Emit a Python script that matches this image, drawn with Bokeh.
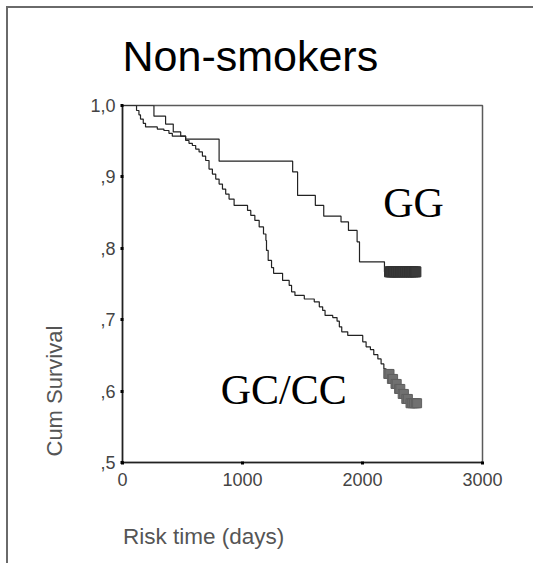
from bokeh.plotting import figure
from bokeh.models import Range1d, FixedTicker, Label, Title, Div
from bokeh.layouts import column
from bokeh.embed import file_html
from bokeh.resources import INLINE
from bokeh.core.properties import value

# ---- data ----
# GG group: step times (days) and cumulative survival after each step
gg_time = [0, 262, 359, 423, 485, 526, 805, 1418, 1459, 1607, 1677, 1821, 1883,
           1955, 1975, 2183, 2445]
gg_surv = [1.0, 0.985, 0.974, 0.963, 0.957, 0.953, 0.922, 0.907, 0.874, 0.860,
           0.845, 0.837, 0.825, 0.809, 0.781, 0.767, 0.767]
gg_cens_time = [2225, 2235, 2245, 2258, 2270, 2285, 2300, 2315, 2330, 2345, 2360,
                2375, 2390, 2405, 2420, 2435, 2445]
gg_cens_surv = [0.767] * 17

# GC/CC group
cc_time = [0, 117, 137, 150, 173, 192, 290, 345, 387, 415, 526, 554, 582, 610,
           638, 666, 693, 721, 749, 777, 805, 833, 860, 888, 930, 1042, 1069,
           1103, 1139, 1175, 1195, 1200, 1214, 1242, 1259, 1334, 1389, 1409,
           1437, 1515, 1598, 1640, 1668, 1688, 1752, 1788, 1807, 1827, 1877,
           2002, 2030, 2066, 2094, 2128, 2155, 2178, 2197, 2232, 2262, 2292,
           2322, 2352, 2385, 2455]
cc_surv = [1.0, 0.993, 0.987, 0.981, 0.975, 0.970, 0.967, 0.965, 0.961, 0.957,
           0.951, 0.947, 0.944, 0.939, 0.935, 0.929, 0.923, 0.911, 0.904, 0.897,
           0.890, 0.883, 0.876, 0.869, 0.860, 0.853, 0.846, 0.839, 0.830, 0.820,
           0.811, 0.797, 0.783, 0.773, 0.765, 0.755, 0.748, 0.739, 0.734, 0.729,
           0.725, 0.718, 0.713, 0.706, 0.703, 0.698, 0.690, 0.683, 0.678, 0.669,
           0.662, 0.658, 0.651, 0.645, 0.638, 0.631, 0.624, 0.617, 0.610, 0.603,
           0.596, 0.589, 0.583, 0.583]
cc_cens_time = [2215, 2225, 2245, 2255, 2275, 2285, 2305, 2315, 2335, 2345, 2365,
                2378, 2400, 2415, 2430, 2445, 2455]
cc_cens_surv = [0.624, 0.624, 0.617, 0.617, 0.610, 0.610, 0.603, 0.603, 0.596,
                0.596, 0.589, 0.589, 0.583, 0.583, 0.583, 0.583, 0.583]

x_ticks = [0, 1000, 2000, 3000]
y_ticks = [0.5, 0.6, 0.7, 0.8, 0.9, 1.0]
y_tick_labels = [",5", ",6", ",7", ",8", ",9", "1,0"]

group_labels = ["GG", "GC/CC"]
group_label_x = [2172, 819]
group_label_y = [0.864, 0.601]

x_title = "Risk time (days)"

# ---- figure ----
p = figure(width=533, height=500, x_range=Range1d(0, 3000), y_range=Range1d(0.5, 1.0),
           output_backend="svg", toolbar_location=None,
           min_border_left=122, min_border_right=51, min_border_top=105,
           min_border_bottom=38)
p.styles = {"box-shadow": "inset 6px 6px 0px 0px #ffffff, inset 8px 8px 0px 0px #6a6a6a"}
p.grid.visible = False
p.background_fill_color = "white"
p.border_fill_color = None
p.outline_line_color = "#5a5a5a"
p.outline_line_width = 1.5

for ax in (p.xaxis[0], p.yaxis[0]):
    ax.axis_line_color = "#222222"
    ax.axis_line_width = 1.5
    ax.major_tick_line_color = "black"
    ax.major_tick_line_width = 3
    ax.major_tick_out = 2
    ax.major_tick_in = 1
    ax.minor_tick_line_color = None
    ax.major_label_text_font = "Liberation Sans"
    ax.major_label_text_font_size = "18px"
    ax.major_label_text_color = "#444444"

p.xaxis.ticker = FixedTicker(ticks=x_ticks)
p.xaxis.major_label_standoff = 8
p.yaxis.ticker = FixedTicker(ticks=y_ticks)
p.yaxis.major_label_overrides = {t: l for t, l in zip(y_ticks, y_tick_labels)}
p.yaxis.major_label_standoff = 5

p.step(cc_time, cc_surv, mode="after", line_color="#222222", line_width=1.2)
p.step(gg_time, gg_surv, mode="after", line_color="#222222", line_width=1.2)
p.scatter(cc_cens_time, cc_cens_surv, marker="square", size=9,
          fill_color="#707070", line_color="#606060", line_width=1)
p.scatter(gg_cens_time, gg_cens_surv, marker="square", size=10,
          fill_color="#3a3a3a", line_color="#333333", line_width=1)

for txt, lx, ly in zip(group_labels, group_label_x, group_label_y):
    p.add_layout(Label(x=lx, y=ly, text=txt, text_font="Liberation Serif",
                       text_font_size="42px", text_color="black",
                       text_baseline="alphabetic"))

p.add_layout(Title(text="Non-smokers", align="left", text_font="Liberation Sans",
                   text_font_size="43px", text_font_style="normal",
                   text_color="black", standoff=52), "above")
p.add_layout(Title(text="Cum Survival", align="left", text_font="Liberation Sans",
                   text_font_size="22px", text_font_style="normal",
                   text_color="#555555", standoff=41, offset=6), "left")

below = Div(text=('<div style="margin-left:123px; padding-top:23px; '
                  'font-family:\'Liberation Sans\'; font-size:22.5px; line-height:27px; '
                  'color:#555555; white-space:nowrap;">' + x_title + '</div>'),
            width=533, height=63)
below.styles = {"box-shadow": "inset 6px 0px 0px 0px #ffffff, inset 8px 0px 0px 0px #6a6a6a",
                "margin": "0px", "padding": "0px"}

layout = column(p, below, spacing=0)

open("out.html", "w").write(file_html(layout, INLINE))
